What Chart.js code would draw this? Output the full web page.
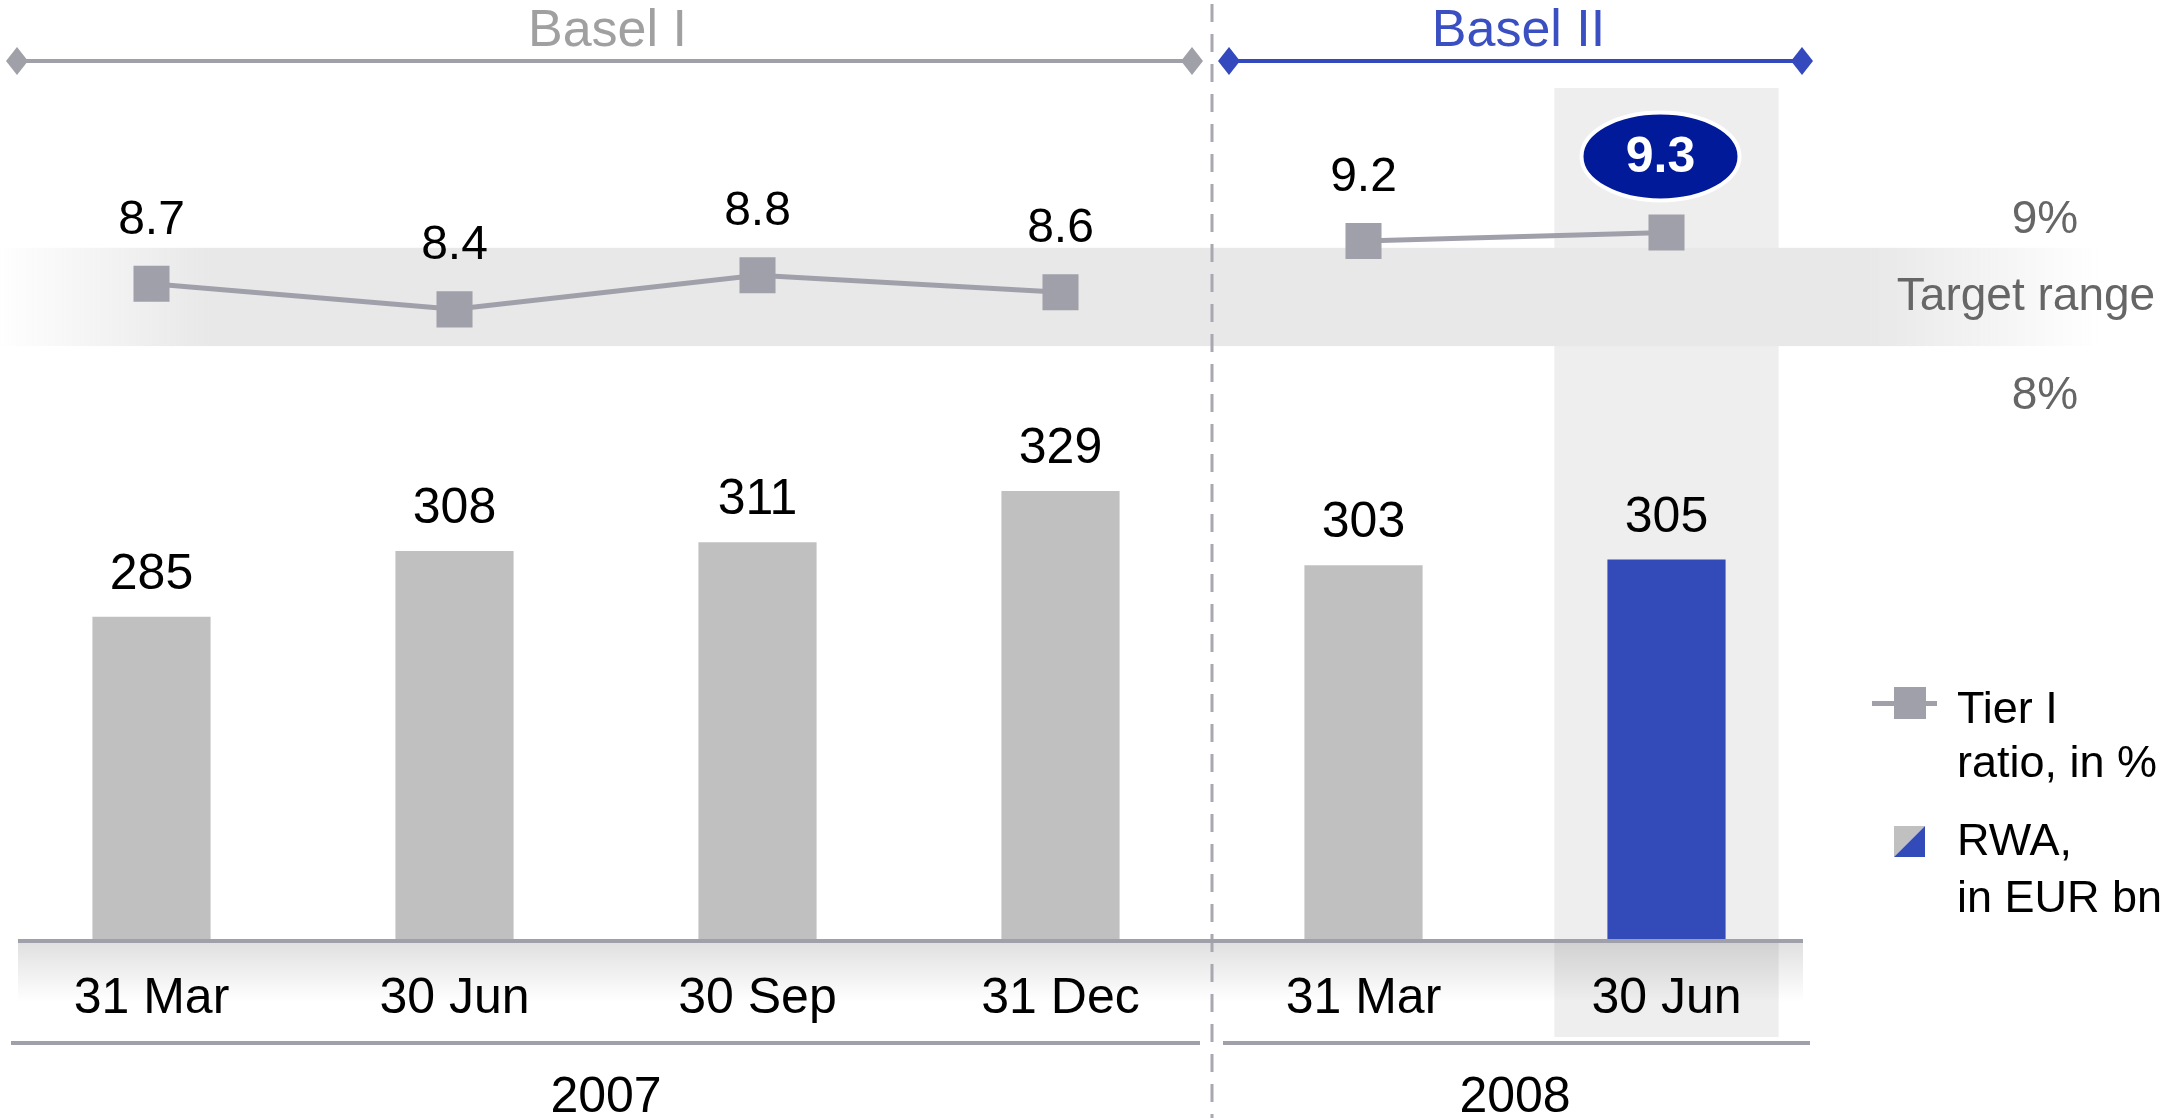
<!DOCTYPE html>
<html><head><meta charset="utf-8">
<script src="https://cdn.jsdelivr.net/npm/chart.js@4.4.0/dist/chart.umd.min.js"></script>
<style>html,body{margin:0;padding:0;background:#fff;}canvas{display:block}</style>
</head><body>
<canvas id="c" width="2176" height="1118"></canvas>
<script>
// ---- data ----
const categories = ['31 Mar', '30 Jun', '30 Sep', '31 Dec', '31 Mar', '30 Jun'];
const years = ['2007', '2007', '2007', '2007', '2008', '2008'];
const regimes = ['Basel I', 'Basel I', 'Basel I', 'Basel I', 'Basel II', 'Basel II'];
const rwa = [285, 308, 311, 329, 303, 305];          // RWA, in EUR bn
const tier1 = [8.7, 8.4, 8.8, 8.6, 9.2, 9.3];        // Tier I ratio, in %
const targetBand = [7.97, 9.12];                     // drawn target range band (ratio scale)
const targetLabels = ['9%', 'Target range', '8%'];
const highlightIndex = 5;
const legendLabels = [['Tier I', 'ratio, in %'], ['RWA,', 'in EUR bn']];

const FONT = '"Liberation Sans", Arial, sans-serif';
const GREY_BAR = '#c0c0c0', BLUE_BAR = '#334bb8', MARK = '#a0a0aa', B2 = '#3349bd';

function diamond(ctx, x, y, w, h, color) {
  ctx.fillStyle = color;
  ctx.beginPath();
  ctx.moveTo(x, y - h / 2); ctx.lineTo(x + w / 2, y); ctx.lineTo(x, y + h / 2); ctx.lineTo(x - w / 2, y);
  ctx.closePath(); ctx.fill();
}

const deco = {
  id: 'deco',
  beforeDatasetsDraw(chart) {
    const ctx = chart.ctx, x = chart.scales.x, y2 = chart.scales.y2;
    const step = x.getPixelForValue(1) - x.getPixelForValue(0);
    ctx.save();
    // highlight column
    const hc = x.getPixelForValue(highlightIndex);
    ctx.fillStyle = '#eeeeee';
    ctx.fillRect(hc - 0.37 * step, 88, 0.74 * step, 1037 - 88);
    // axis gradient band under baseline
    const left = x.getPixelForValue(0) - step / 2 + 18;
    const right = x.getPixelForValue(categories.length - 1) + step / 2 - 15;
    const ag = ctx.createLinearGradient(0, 942, 0, 1002);
    ag.addColorStop(0, 'rgba(0,0,0,0.12)');
    ag.addColorStop(1, 'rgba(0,0,0,0)');
    ctx.fillStyle = ag;
    ctx.fillRect(left, 942, right - left, 60);
    // target band
    const bt = y2.getPixelForValue(targetBand[1]), bb = y2.getPixelForValue(targetBand[0]);
    const W = chart.width;
    const g = ctx.createLinearGradient(0, 0, W, 0);
    g.addColorStop(0, 'rgba(232,232,232,0)');
    g.addColorStop(15 / W, 'rgba(232,232,232,0.1)');
    g.addColorStop(210 / W, 'rgba(232,232,232,1)');
    g.addColorStop(1870 / W, 'rgba(232,232,232,1)');
    g.addColorStop(2100 / W, 'rgba(232,232,232,0)');
    g.addColorStop(1, 'rgba(232,232,232,0)');
    ctx.fillStyle = g;
    ctx.fillRect(0, bt, W, bb - bt);
    // dashed divider between regimes
    let div = null;
    for (let i = 1; i < regimes.length; i++) if (regimes[i] !== regimes[i - 1]) div = (x.getPixelForValue(i) + x.getPixelForValue(i - 1)) / 2;
    ctx.strokeStyle = '#a8a8b0'; ctx.lineWidth = 3; ctx.setLineDash([18, 12]);
    ctx.beginPath(); ctx.moveTo(div, 4); ctx.lineTo(div, chart.height); ctx.stroke();
    ctx.setLineDash([]);
    ctx.restore();
  },
  afterDatasetsDraw(chart) {
    const ctx = chart.ctx, x = chart.scales.x;
    const step = x.getPixelForValue(1) - x.getPixelForValue(0);
    const base = chart.chartArea.bottom;
    const n = categories.length;
    let divIdx = regimes.findIndex((r, i) => i > 0 && r !== regimes[i - 1]);
    const div = (x.getPixelForValue(divIdx) + x.getPixelForValue(divIdx - 1)) / 2;
    const left = x.getPixelForValue(0) - step / 2 + 18;
    const right = x.getPixelForValue(n - 1) + step / 2 - 15;
    ctx.save();
    // baseline
    ctx.fillStyle = MARK;
    ctx.fillRect(left, base - 1, right - left, 4);
    // bar labels
    ctx.fillStyle = '#000'; ctx.textAlign = 'center'; ctx.textBaseline = 'alphabetic';
    ctx.font = '50px ' + FONT;
    chart.getDatasetMeta(0).data.forEach((el, i) => {
      ctx.fillText(String(rwa[i]), el.x, el.y - 28);
    });
    // line labels
    chart.getDatasetMeta(1).data.forEach((el, i) => {
      if (i === highlightIndex) {
        const cy = el.y - 76, cx = el.x - 6;
        ctx.beginPath(); ctx.ellipse(cx, cy, 79, 44, 0, 0, Math.PI * 2);
        ctx.fillStyle = '#001a99'; ctx.fill();
        ctx.lineWidth = 4; ctx.strokeStyle = '#ffffff'; ctx.stroke();
        ctx.fillStyle = '#fff'; ctx.font = 'bold 50px ' + FONT; ctx.textBaseline = 'middle';
        ctx.fillText(tier1[i].toFixed(1), cx, cy + 2);
        ctx.textBaseline = 'alphabetic';
      } else {
        ctx.fillStyle = '#000'; ctx.font = '48px ' + FONT;
        ctx.fillText(tier1[i].toFixed(1), el.x, el.y - 50);
      }
    });
    // category labels
    ctx.fillStyle = '#000'; ctx.font = '50px ' + FONT;
    categories.forEach((c, i) => ctx.fillText(c, x.getPixelForValue(i), 1013));
    // year lines and labels
    ctx.fillStyle = MARK;
    ctx.fillRect(11, 1041, div - 12 - 11, 4);
    ctx.fillRect(div + 11, 1041, right + 7 - div - 11, 4);
    ctx.fillStyle = '#000';
    const yrs = [...new Set(years)];
    yrs.forEach(yv => {
      const idx = years.map((v, i) => v === yv ? i : -1).filter(i => i >= 0);
      const cx = (x.getPixelForValue(idx[0]) + x.getPixelForValue(idx[idx.length - 1])) / 2;
      ctx.fillText(yv, cx, 1112);
    });
    // Basel brackets
    const regs = [...new Set(regimes)];
    const spans = [[17, div - 20], [div + 17, right - 1]];
    const cols = ['#a0a0a8', B2];
    const tcols = ['#a0a0a0', '#3a4fc2'];
    ctx.font = '52px ' + FONT;
    regs.forEach((r, k) => {
      const [a, b] = spans[k];
      ctx.fillStyle = cols[k];
      ctx.fillRect(a, 59, b - a, 4);
      diamond(ctx, a, 61, 22, 28, cols[k]);
      diamond(ctx, b, 61, 22, 28, cols[k]);
      ctx.fillStyle = tcols[k];
      ctx.fillText(r, (a + b) / 2 + 3, 46);
    });
    // target labels
    ctx.fillStyle = '#666666'; ctx.font = '46px ' + FONT;
    ctx.fillText(targetLabels[0], 2045, 233);
    ctx.fillText(targetLabels[1], 2026, 310);
    ctx.fillText(targetLabels[2], 2045, 409);
    // legend
    ctx.fillStyle = MARK;
    ctx.fillRect(1872, 701, 65, 5);
    ctx.fillRect(1894, 687, 32, 32);
    ctx.fillStyle = GREY_BAR;
    ctx.beginPath(); ctx.moveTo(1894, 826); ctx.lineTo(1925, 826); ctx.lineTo(1894, 857); ctx.closePath(); ctx.fill();
    ctx.fillStyle = BLUE_BAR;
    ctx.beginPath(); ctx.moveTo(1925, 826); ctx.lineTo(1925, 857); ctx.lineTo(1894, 857); ctx.closePath(); ctx.fill();
    ctx.fillStyle = '#000'; ctx.font = '45px ' + FONT; ctx.textAlign = 'left';
    ctx.fillText(legendLabels[0][0], 1957, 723);
    ctx.fillText(legendLabels[0][1], 1957, 777);
    ctx.fillText(legendLabels[1][0], 1957, 855);
    ctx.fillText(legendLabels[1][1], 1957, 912);
    ctx.restore();
  }
};

new Chart(document.getElementById('c'), {
  data: {
    labels: categories,
    datasets: [
      {
        type: 'bar', label: 'RWA, in EUR bn', data: rwa, yAxisID: 'y', order: 2,
        backgroundColor: rwa.map((v, i) => i === highlightIndex ? BLUE_BAR : GREY_BAR),
        barPercentage: 0.39, categoryPercentage: 1.0, borderWidth: 0
      },
      {
        type: 'line', label: 'Tier I ratio, in %', data: tier1, yAxisID: 'y2', order: 1,
        borderColor: MARK, borderWidth: 5, tension: 0,
        pointStyle: 'rect', pointRadius: 25.5, pointBackgroundColor: MARK, pointBorderWidth: 0,
        segment: { borderColor: c => regimes[c.p0DataIndex] !== regimes[c.p1DataIndex] ? 'rgba(0,0,0,0)' : MARK }
      }
    ]
  },
  options: {
    responsive: false, devicePixelRatio: 1, animation: false,
    layout: { autoPadding: false, padding: { left: 0, top: 0, right: 358, bottom: 178 } },
    plugins: { legend: { display: false }, tooltip: { enabled: false } },
    scales: {
      x: { display: false, offset: true },
      y: { display: false, min: 172, max: 500.6 },
      y2: { display: false, min: 1.02, max: 12.02 }
    }
  },
  plugins: [deco]
});
</script>
</body></html>
